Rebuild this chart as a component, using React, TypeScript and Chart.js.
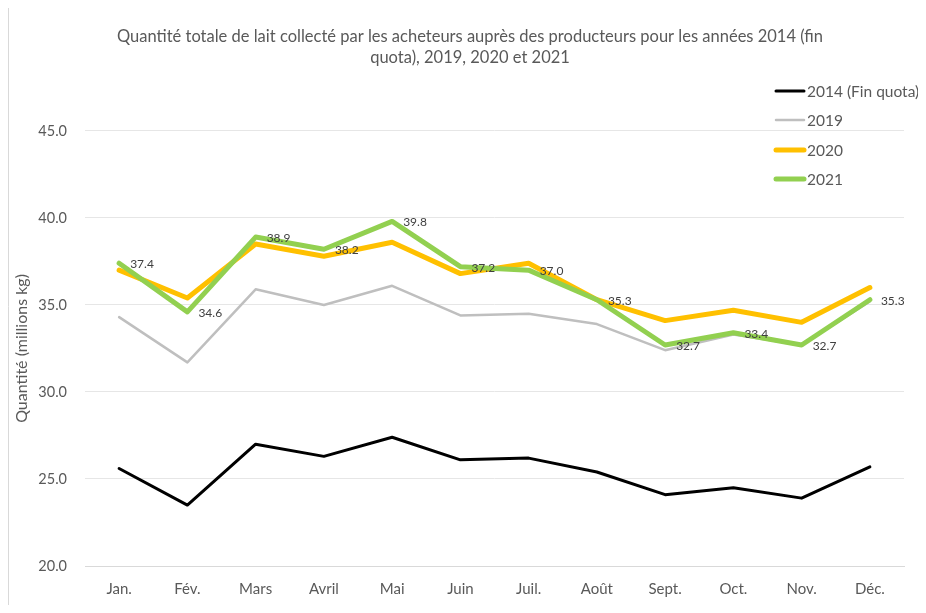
import React, { useEffect, useRef } from "react";
import { Chart, registerables } from "chart.js";

Chart.register(...registerables);

const titleLines = [
  "Quantité totale de lait collecté par les acheteurs auprès des producteurs pour les années 2014 (fin",
  "quota), 2019, 2020 et 2021",
];
const yAxisTitle = "Quantité (millions kg)";
const months = ["Jan.", "Fév.", "Mars", "Avril", "Mai", "Juin", "Juil.", "Août", "Sept.", "Oct.", "Nov.", "Déc."];
const seriesNames = ["2014 (Fin quota)", "2019", "2020", "2021"];
const v2014 = [25.6, 23.5, 27.0, 26.3, 27.4, 26.1, 26.2, 25.4, 24.1, 24.5, 23.9, 25.7];
const v2019 = [34.3, 31.7, 35.9, 35.0, 36.1, 34.4, 34.5, 33.9, 32.4, 33.3, 32.7, 35.2];
const v2020 = [37.0, 35.4, 38.5, 37.8, 38.6, 36.8, 37.4, 35.3, 34.1, 34.7, 34.0, 36.0];
const v2021 = [37.4, 34.6, 38.9, 38.2, 39.8, 37.2, 37.0, 35.3, 32.7, 33.4, 32.7, 35.3];
const yMin = 20;
const yMax = 45;
const yStep = 5;

const FONT = "Lato, 'Open Sans', sans-serif";
const TEXT = "#595959";

const borderPlugin = {
  id: "leftBorder",
  beforeDraw(chart: any) {
    const ctx = chart.ctx;
    ctx.save();
    ctx.strokeStyle = "#d9d9d9";
    ctx.lineWidth = 1;
    ctx.beginPath();
    ctx.moveTo(0.5, 0);
    ctx.lineTo(0.5, chart.height);
    ctx.stroke();
    ctx.restore();
  },
};

const legendPlugin = {
  id: "customLegend",
  afterDraw(chart: any) {
    const ctx = chart.ctx;
    const area = chart.chartArea;
    const x0 = area.right - 129;
    const rowOffsets = [-40, -11, 19, 48];
    ctx.save();
    chart.data.datasets.forEach((ds: any, i: number) => {
      const y = area.top + rowOffsets[i];
      ctx.strokeStyle = ds.borderColor;
      ctx.lineWidth = ds.borderWidth;
      ctx.lineCap = "round";
      ctx.beginPath();
      ctx.moveTo(x0 + 1, y);
      ctx.lineTo(x0 + 29, y);
      ctx.stroke();
      ctx.fillStyle = TEXT;
      ctx.font = `15.5px ${FONT}`;
      ctx.textAlign = "left";
      ctx.textBaseline = "middle";
      ctx.fillText(ds.label, x0 + 32, y + 1);
    });
    ctx.restore();
  },
};

const labelPlugin = {
  id: "pointLabels",
  afterDatasetsDraw(chart: any) {
    const ctx = chart.ctx;
    const idx = 3;
    const meta = chart.getDatasetMeta(idx);
    const data = chart.data.datasets[idx].data;
    ctx.save();
    ctx.fillStyle = "#404040";
    ctx.font = `12px ${FONT}`;
    ctx.textAlign = "left";
    ctx.textBaseline = "middle";
    meta.data.forEach((pt: any, i: number) => {
      ctx.fillText(Number(data[i]).toFixed(1), pt.x + 11, pt.y + 1);
    });
    ctx.restore();
  },
};

const PAD_LEFT = 28;
const AREA_LEFT = 77;

export default function App() {
  const ref = useRef<HTMLCanvasElement | null>(null);

  useEffect(() => {
    if (!ref.current) return;
    const chart = new Chart(ref.current, {
      type: "line",
      data: {
        labels: months,
        datasets: [
          { label: seriesNames[0], data: v2014, borderColor: "#000000", backgroundColor: "#000000", borderWidth: 3, order: 4 },
          { label: seriesNames[1], data: v2019, borderColor: "#bfbfbf", backgroundColor: "#bfbfbf", borderWidth: 2.5, order: 3 },
          { label: seriesNames[2], data: v2020, borderColor: "#ffc000", backgroundColor: "#ffc000", borderWidth: 5, order: 2 },
          { label: seriesNames[3], data: v2021, borderColor: "#92d050", backgroundColor: "#92d050", borderWidth: 5, order: 1 },
        ],
      },
      options: {
        animation: false,
        responsive: false,
        maintainAspectRatio: false,
        layout: { padding: { left: PAD_LEFT, right: 22, top: 0, bottom: 0 } },
        elements: {
          point: { radius: 0, hoverRadius: 0 },
          line: { tension: 0, borderJoinStyle: "round", borderCapStyle: "round" },
        },
        plugins: {
          legend: { display: false },
          tooltip: { enabled: false },
          title: {
            display: true,
            text: titleLines,
            color: TEXT,
            font: { family: FONT, size: 16.5, weight: "normal", lineHeight: 1.27 },
            padding: { top: 18, bottom: 63 },
          },
        },
        scales: {
          x: {
            offset: true,
            grid: { display: false, drawTicks: false },
            border: { display: true, color: "#d9d9d9", width: 1 },
            ticks: { color: TEXT, font: { family: FONT, size: 15 }, padding: 14, maxRotation: 0, autoSkip: false },
            afterFit(scale: any) {
              scale.height = 39;
            },
          },
          y: {
            min: yMin,
            max: yMax,
            clip: false,
            grid: { color: "#e6e6e6", drawTicks: false, lineWidth: 1 },
            border: { display: false },
            ticks: {
              stepSize: yStep,
              color: TEXT,
              font: { family: FONT, size: 14.5 },
              padding: 18,
              callback: (v: any) => Number(v).toFixed(1),
            },
            title: {
              display: true,
              text: yAxisTitle,
              color: TEXT,
              font: { family: FONT, size: 16 },
              padding: { top: 14 - PAD_LEFT - 9.6, bottom: 0 },
            },
            afterFit(scale: any) {
              scale.width = AREA_LEFT - PAD_LEFT;
            },
          },
        } as any,
      },
      plugins: [borderPlugin, labelPlugin, legendPlugin],
    });
    return () => chart.destroy();
  }, []);

  return (
    <div style={{ width: 918, height: 597, background: "#ffffff" }}>
      <canvas ref={ref} width={918} height={597} style={{ display: "block" }} />
    </div>
  );
}
